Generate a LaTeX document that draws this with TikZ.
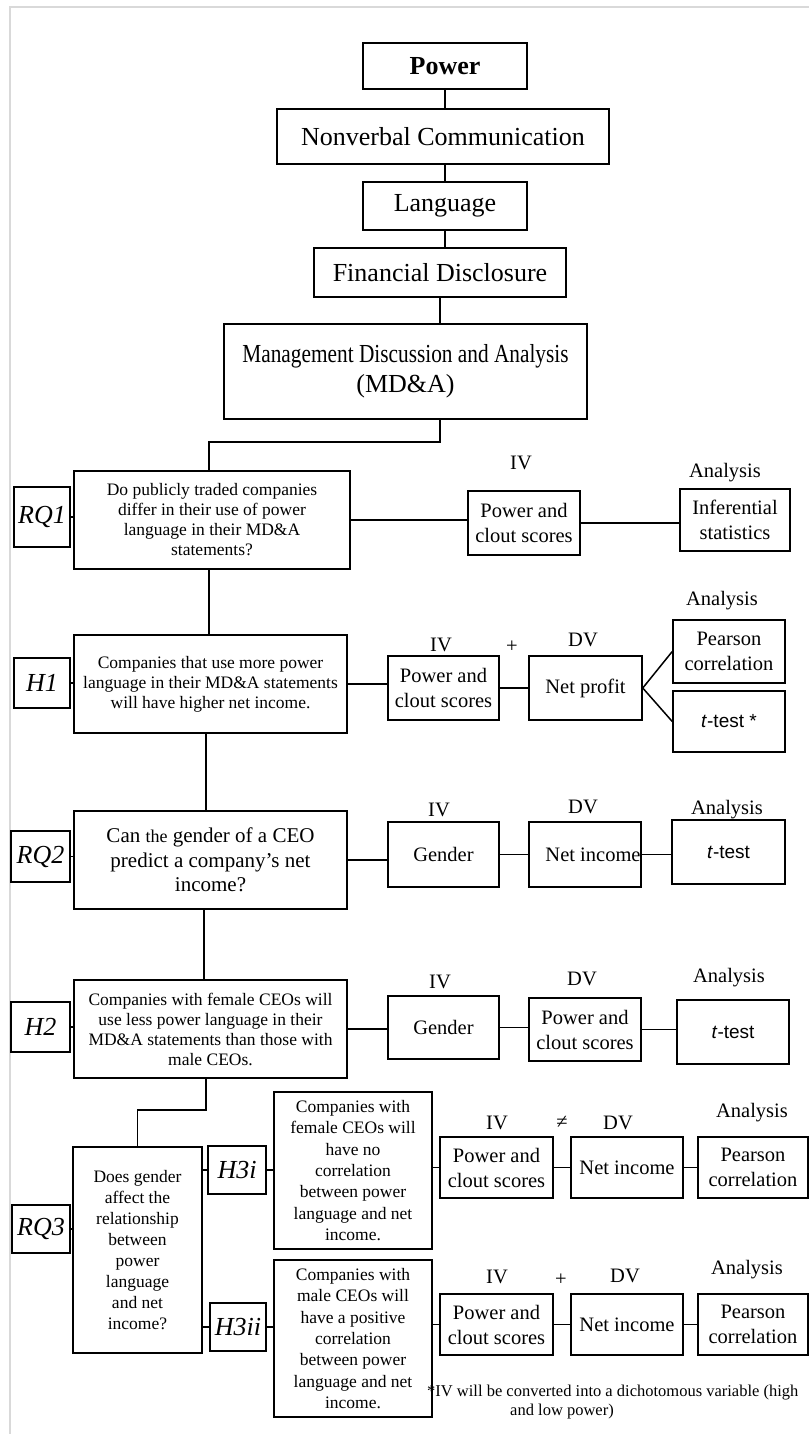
\documentclass[tikz,border=0pt]{standalone}
\usepackage{fontspec}
\setmainfont{Liberation Serif}
\setsansfont{Liberation Sans}
\begin{document}
\begin{tikzpicture}[x=1pt, y=-1pt,
        box/.style={draw, line width=1.5pt, inner sep=0pt, align=center},
        big/.style={box, font=\fontsize{26}{30}\selectfont},
        qbox/.style={box, font=\fontsize{17.5}{20}\selectfont},
        tag/.style={box, font=\fontsize{26}{30}\selectfont\itshape},
        var/.style={box, font=\fontsize{20.5}{25}\selectfont},
        head/.style={inner sep=0pt, font=\fontsize{20.5}{25}\selectfont},
        link/.style={line width=1.5pt}]
        \useasboundingbox (0,0) rectangle (809,1434);
        \draw[black!15, line width=2pt] (10,1434) -- (10,7) -- (809,7);
        \node[big, minimum width=164pt, minimum height=46pt] (power) at (445,66) 
        {\textbf{Power}};
        \node[big, minimum width=332pt, minimum height=55pt] (nonverbal) at (443,136.5) 
        {Nonverbal Communication};
        \node[big, minimum width=164pt, minimum height=48pt] (language) at (445,206) 
        {Language};
        \node[big, minimum width=252pt, minimum height=49pt] (findisc) at (440,272.5) 
        {Financial Disclosure};
        \node[big, minimum width=363pt, minimum height=95pt] (mda) at (405.5,371.5) 
        {\scalebox{0.82}[1]{Management Discussion and Analysis}\\(MD\&A)};
        \draw[link] (power.south) -- (power.south |- nonverbal.north);
        \draw[link] (power.south |- nonverbal.south) -- (power.south |- language.north);
        \draw[link] (language.south) -- (language.south |- findisc.north);
        \draw[link] (findisc.south) -- (findisc.south |- mda.north);
        \draw[link] (findisc.south |- mda.south) -- ++(0,22) -| (209,471);
        \node[tag, minimum width=56pt, minimum height=60pt] (rq1lbl) at (42,517) {RQ1};
        \node[qbox, minimum width=276pt, minimum height=98pt] (rq1box) at (212,520) 
        {Do publicly traded companies\\differ in their use of power\\language in their MD\&A\\statements?};
        \node[var, minimum width=112pt, minimum height=64pt] (rq1pc) at (524,523) 
        {Power and\\clout scores};
        \node[var, minimum width=110pt, minimum height=62pt] (rq1inf) at (735,520) 
        {Inferential\\statistics};
        \node[head] (rq1iv) at (521,463) {IV};
        \node[head] (rq1an) at (725,473) {Analysis};
        \draw[link] (rq1lbl.east) -- (rq1lbl.east -| rq1box.west);
        \draw[link] (rq1box.east) -- (rq1box.east -| rq1pc.west);
        \draw[link] (rq1pc.east) -- (rq1pc.east -| rq1inf.west);
        \node[tag, minimum width=56pt, minimum height=50pt] (h1lbl) at (42,683) {H1};
        \node[qbox, minimum width=273pt, minimum height=98pt] (h1box) at (210.5,684) 
        {Companies that use more power\\language in their MD\&A statements\\will have higher net income.};
        \node[var, minimum width=111pt, minimum height=64pt] (h1pc) at (443.5,688) 
        {Power and\\clout scores};
        \node[var, minimum width=113pt, minimum height=64pt] (h1np) at (585.5,688) 
        {Net profit};
        \node[var, minimum width=112pt, minimum height=63pt] (h1pear) at (729,651.5) 
        {Pearson\\correlation};
        \node[var, minimum width=112pt, minimum height=61pt] (h1tt) at (729,721.5) 
        {\fontsize{19}{23}\selectfont\sffamily\textit{t}-test *};
        \node[head] (h1iv) at (441,645) {IV};
        \node[head] (h1plus) at (512,647) {+};
        \node[head] (h1dv) at (583,640) {DV};
        \node[head] (h1an) at (722,601) {Analysis};
        \draw[link] (rq1box.south -| 209,0) -- (h1box.north -| 209,0);
        \draw[link] (h1lbl.east) -- (h1lbl.east -| h1box.west);
        \draw[link] (h1box.east) -- (h1box.east -| h1pc.west);
        \draw[link] (h1pc.east) -- (h1pc.east -| h1np.west);
        \draw[link] (h1pear.west) -- (h1np.east) -- (h1tt.west);
        \node[tag, minimum width=59pt, minimum height=51pt] (rq2lbl) at (40.5,856.5) {RQ2};
        \node[box, font=\fontsize{21}{24.5}\selectfont, minimum width=273pt, minimum height=98pt] 
        (rq2box) at (210.5,860) 
        {Can {\fontsize{18}{20}\selectfont the} gender of a CEO\\predict a company’s net\\income?};
        \node[var, minimum width=111pt, minimum height=65pt] (rq2gen) at (443.5,854.5) 
        {Gender};
        \node[var, minimum width=112pt, minimum height=65pt] (rq2ni) at (585,854.5) 
        {\hspace*{16pt}Net income};
        \node[var, minimum width=113pt, minimum height=64pt] (rq2tt) at (728.5,852) 
        {\fontsize{19}{23}\selectfont\sffamily\textit{t}-test};
        \node[head] (rq2iv) at (439,810) {IV};
        \node[head] (rq2dv) at (583,807) {DV};
        \node[head] (rq2an) at (727,810) {Analysis};
        \draw[link] (h1box.south -| 206,0) -- (rq2box.north -| 206,0);
        \draw[link] (rq2lbl.east) -- (rq2lbl.east -| rq2box.west);
        \draw[link] (rq2box.east) -- (rq2box.east -| rq2gen.west);
        \draw[link] (rq2gen.east) -- (rq2gen.east -| rq2ni.west);
        \draw[link] (rq2ni.east) -- (rq2ni.east -| rq2tt.west);
        \node[tag, minimum width=59pt, minimum height=50pt] (h2lbl) at (40.5,1027) {H2};
        \node[qbox, minimum width=273pt, minimum height=98pt] (h2box) at (210.5,1029) 
        {Companies with female CEOs will\\use less power language in their\\MD\&A statements than those with\\male CEOs.};
        \node[var, minimum width=111pt, minimum height=63pt] (h2gen) at (443.5,1027.5) 
        {Gender};
        \node[var, minimum width=112pt, minimum height=63pt] (h2pc) at (585,1029.5) 
        {Power and\\clout scores};
        \node[var, minimum width=112pt, minimum height=64pt] (h2tt) at (733,1032) 
        {\fontsize{19}{23}\selectfont\sffamily\textit{t}-test};
        \node[head] (h2iv) at (440,982) {IV};
        \node[head] (h2dv) at (582,979) {DV};
        \node[head] (h2an) at (729,978) {Analysis};
        \draw[link] (rq2box.south -| 204,0) -- (h2box.north -| 204,0);
        \draw[link] (h2lbl.east) -- (h2lbl.east -| h2box.west);
        \draw[link] (h2box.east) -- (h2box.east -| h2gen.west);
        \draw[link] (h2gen.east) -- (h2gen.east -| h2pc.west);
        \draw[link] (h2pc.east) -- (h2pc.east -| h2tt.west);
        \node[tag, minimum width=58pt, minimum height=48pt] (rq3lbl) at (41,1229) {RQ3};
        \node[qbox, font=\fontsize{17.5}{21}\selectfont, minimum width=129pt, minimum height=206pt] 
        (rq3box) at (137.5,1250) 
        {Does gender\\affect the\\relationship\\between\\power\\language\\and net\\income?};
        \node[tag, minimum width=58pt, minimum height=48pt] (h3ilbl) at (237,1170) {H3i};
        \node[qbox, font=\fontsize{17.5}{21.3}\selectfont, minimum width=158pt, minimum height=157pt] 
        (h3itxt) at (353,1170.5) 
        {Companies with\\female CEOs will\\have no\\correlation\\between power\\language and net\\income.};
        \node[tag, minimum width=56pt, minimum height=48pt] (h3iilbl) at (238,1327) {H3ii};
        \node[qbox, font=\fontsize{17.5}{21.3}\selectfont, minimum width=158pt, minimum height=157pt] 
        (h3iitxt) at (353,1338.5) 
        {Companies with\\male CEOs will\\have a positive\\correlation\\between power\\language and net\\income.};
        \node[var, minimum width=113pt, minimum height=61pt] (h3ipc) at (496.5,1167.5) 
        {Power and\\clout scores};
        \node[var, minimum width=112pt, minimum height=61pt] (h3ini) at (627,1167.5) 
        {Net income};
        \node[var, minimum width=110pt, minimum height=61pt] (h3ipear) at (753,1167.5) 
        {Pearson\\correlation};
        \node[head] (h3iiv) at (497,1123) {IV};
        \node[head] (h3ineq) at (562,1122) {≠};
        \node[head] (h3idv) at (618,1123) {DV};
        \node[head] (h3ian) at (752,1113) {Analysis};
        \node[var, minimum width=113pt, minimum height=61pt] (h3iipc) at (496.5,1324.5) 
        {Power and\\clout scores};
        \node[var, minimum width=112pt, minimum height=61pt] (h3iini) at (627,1324.5) 
        {Net income};
        \node[var, minimum width=110pt, minimum height=61pt] (h3iipear) at (753,1324.5) 
        {Pearson\\correlation};
        \node[head] (h3iiiv) at (497,1277) {IV};
        \node[head] (h3iiplus) at (561,1280) {+};
        \node[head] (h3iidv) at (625,1276) {DV};
        \node[head] (h3iian) at (747,1270) {Analysis};
        \draw[link] (h2box.south -| 206,0) -- ++(0,31) -| (rq3box.north);
        \draw[link] (rq3lbl.east) -- (rq3lbl.east -| rq3box.west);
        \draw[link] (h3ilbl.west -| rq3box.east) -- (h3ilbl.west);
        \draw[link] (h3iilbl.west -| rq3box.east) -- (h3iilbl.west);
        \draw[link] (h3ilbl.east) -- (h3ilbl.east -| h3itxt.west);
        \draw[link] (h3iilbl.east) -- (h3iilbl.east -| h3iitxt.west);
        \draw[link] (h3ipc.west -| h3itxt.east) -- (h3ipc.west);
        \draw[link] (h3ipc.east) -- (h3ipc.east -| h3ini.west);
        \draw[link] (h3ini.east) -- (h3ini.east -| h3ipear.west);
        \draw[link] (h3iipc.west -| h3iitxt.east) -- (h3iipc.west);
        \draw[link] (h3iipc.east) -- (h3iipc.east -| h3iini.west);
        \draw[link] (h3iini.east) -- (h3iini.east -| h3iipear.west);
        \node[anchor=west, inner sep=0pt, font=\fontsize{16.5}{19}\selectfont] (note1) at (427,1393) 
        {*IV will be converted into a dichotomous variable (high};
        \node[inner sep=0pt, font=\fontsize{16.5}{19}\selectfont] (note2) at (562,1412) 
        {and low power)};
\end{tikzpicture}
\end{document}
